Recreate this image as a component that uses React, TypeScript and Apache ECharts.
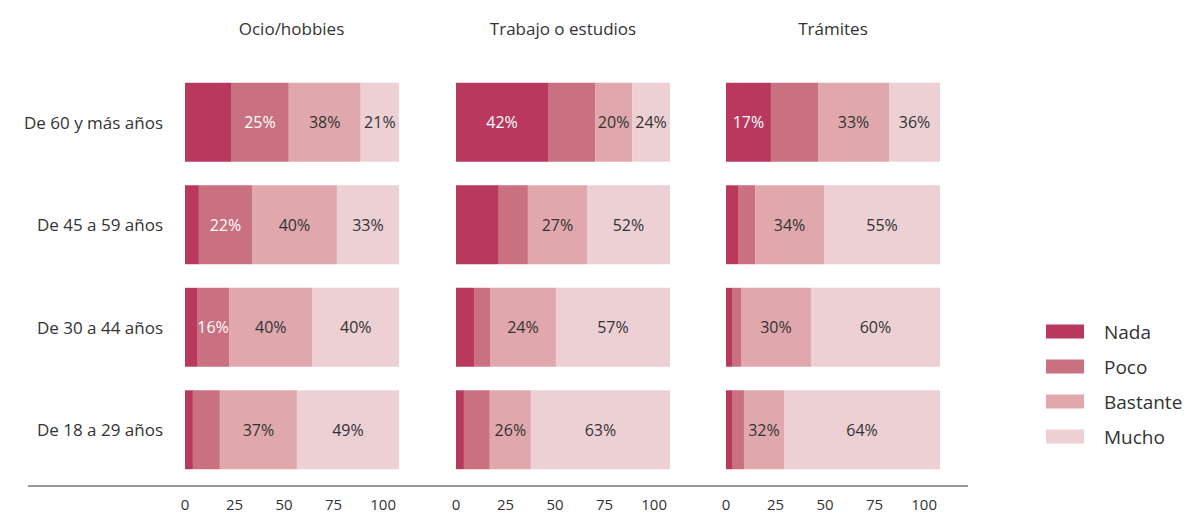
import React, { useEffect, useRef } from "react";
import * as echarts from "echarts";

const ageGroups = ["De 60 y más años", "De 45 a 59 años", "De 30 a 44 años", "De 18 a 29 años"];
const levels = ["Nada", "Poco", "Bastante", "Mucho"];
const panels = ["Ocio/hobbies", "Trabajo o estudios", "Trámites"];
const xTicks = [0, 25, 50, 75, 100];

// bar segment widths (percent of bar), rows top to bottom
const ocioNada = [21.5, 6.5, 5.6, 3.7];
const ocioPoco = [27, 24.8, 15, 12.6];
const ocioBastante = [33.6, 39.7, 39, 36];
const ocioMucho = [17.9, 29, 40.4, 47.7];

const trabajoNada = [43, 20, 8.4, 3.7];
const trabajoPoco = [22, 13.6, 7.5, 12.1];
const trabajoBastante = [17.3, 27.6, 30.8, 19.2];
const trabajoMucho = [17.7, 38.8, 53.3, 65];

const tramitesNada = [21, 5.6, 2.8, 2.8];
const tramitesPoco = [22, 8, 4.2, 5.6];
const tramitesBastante = [33.2, 32.2, 32.7, 18.7];
const tramitesMucho = [23.8, 54.2, 60.3, 72.9];

// printed percentage labels (null = no label)
const ocioLabels = [
  [null, null, null, null],
  [25, 22, 16, null],
  [38, 40, 40, 37],
  [21, 33, 40, 49],
];
const trabajoLabels = [
  [42, null, null, null],
  [null, null, null, null],
  [20, 27, 24, 26],
  [24, 52, 57, 63],
];
const tramitesLabels = [
  [17, null, null, null],
  [null, null, null, null],
  [33, 34, 30, 32],
  [36, 55, 60, 64],
];

const panelValues = [
  [ocioNada, ocioPoco, ocioBastante, ocioMucho],
  [trabajoNada, trabajoPoco, trabajoBastante, trabajoMucho],
  [tramitesNada, tramitesPoco, tramitesBastante, tramitesMucho],
];
const panelLabels = [ocioLabels, trabajoLabels, tramitesLabels];

const colors = ["#b9385e", "#c97180", "#e0a8ac", "#ecd0d4"];
const labelColors = ["#ffffff", "#ffffff", "#333333", "#333333"];
const FONT = "'Open Sans', 'Noto Sans', sans-serif";

export default function App() {
  const ref = useRef<HTMLDivElement>(null);
  useEffect(() => {
    if (!ref.current) return;
    const chart = echarts.init(ref.current, undefined, { renderer: "svg" });
    const lefts = [185, 456, 726];
    const gridW = 214;
    const top = 71;
    const height = 410;
    const titleCenters = [291.5, 563, 833];

    const grids = lefts.map((l) => ({ left: l, top, width: gridW, height }));
    const xAxes: any[] = [];
    const yAxes: any[] = [];
    lefts.forEach((_, p) => {
      xAxes.push({
        gridIndex: p,
        type: "value",
        min: 0,
        max: 100,
        show: false,
      });
      xAxes.push({
        gridIndex: p,
        type: "value",
        min: 0,
        max: 108,
        interval: 25,
        position: "bottom",
        axisLine: { show: false },
        axisTick: { show: false },
        splitLine: { show: false },
        axisLabel: {
          show: true,
          showMaxLabel: false,
          margin: 15,
          fontSize: 15,
          color: "#333",
          fontFamily: FONT,
          formatter: (v: number) => (xTicks.includes(v) ? String(v) : ""),
        },
      });
      yAxes.push({
        gridIndex: p,
        type: "category",
        data: ageGroups,
        inverse: true,
        axisLine: { show: false },
        axisTick: { show: false },
        axisLabel: {
          show: p === 0,
          margin: 22,
          fontSize: 17,
          color: "#333",
          fontFamily: FONT,
        },
      });
    });

    const series: any[] = [];
    panelValues.forEach((vals, p) => {
      vals.forEach((arr, k) => {
        series.push({
          name: levels[k],
          type: "bar",
          stack: "p" + p,
          xAxisIndex: 2 * p,
          yAxisIndex: p,
          barCategoryGap: "23%",
          data: arr,
          itemStyle: { color: colors[k] },
          label: {
            show: true,
            position: "inside",
            color: labelColors[k],
            fontSize: 16,
            fontFamily: FONT,
            formatter: (params: any) => {
              const v = panelLabels[p][k][params.dataIndex];
              return v == null ? "" : v + "%";
            },
          },
        });
      });
    });

    chart.setOption({
      animation: false,
      backgroundColor: "#ffffff",
      legend: {
        orient: "vertical",
        left: 1041,
        top: 316,
        itemWidth: 38,
        itemHeight: 14,
        itemGap: 14,
        icon: "rect",
        data: levels,
        textStyle: {
          fontSize: 19,
          color: "#333",
          fontFamily: FONT,
          lineHeight: 21,
          padding: [0, 0, 0, 15],
        },
      },
      grid: grids,
      xAxis: xAxes,
      yAxis: yAxes,
      series,
      graphic: [
        {
          type: "line",
          shape: { x1: 28, y1: 486, x2: 968, y2: 486 },
          style: { stroke: "#777", lineWidth: 1.5 },
        },
        ...panels.map((t, p) => ({
          type: "text",
          x: titleCenters[p],
          y: 28,
          style: {
            text: t,
            textAlign: "center",
            textVerticalAlign: "middle",
            fontSize: 17,
            fill: "#333",
            fontFamily: FONT,
          },
        })),
      ],
    });
    return () => chart.dispose();
  }, []);
  return (
    <div
      ref={ref}
      style={{ position: "fixed", left: 0, top: 0, width: 1192, height: 514, background: "#fff" }}
    />
  );
}
